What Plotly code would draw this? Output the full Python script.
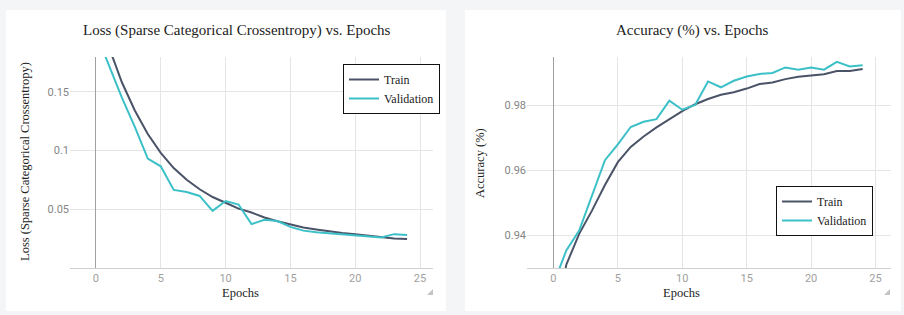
import plotly.graph_objects as go

W, H = 904, 315

epochs = list(range(25))
train_loss = [0.30, 0.188, 0.158, 0.134, 0.114, 0.098, 0.085, 0.075, 0.067, 0.0604,
              0.0555, 0.0505, 0.0472, 0.043, 0.0397, 0.037, 0.0345, 0.0328, 0.031,
              0.0297, 0.0287, 0.0275, 0.026, 0.0252, 0.0246]
val_loss = [0.20, 0.173, 0.145, 0.12, 0.093, 0.0865, 0.0664, 0.0647, 0.0613, 0.0486,
            0.057, 0.054, 0.0373, 0.041, 0.040, 0.035, 0.0318, 0.0305, 0.0295,
            0.0285, 0.028, 0.027, 0.026, 0.0288, 0.028]
train_acc = [0.91, 0.931, 0.9405, 0.9477, 0.9555, 0.9625, 0.9672, 0.9704, 0.9732, 0.9758,
             0.9782, 0.9803, 0.9819, 0.9832, 0.984, 0.9851, 0.9865, 0.987, 0.988,
             0.9887, 0.9892, 0.9895, 0.9905, 0.9905, 0.9911]
val_acc = [0.925, 0.9354, 0.9415, 0.9523, 0.9631, 0.968, 0.9733, 0.9749, 0.9757, 0.9814,
           0.9786, 0.9801, 0.9873, 0.9855, 0.9875, 0.9888, 0.9896, 0.9899, 0.9916,
           0.9909, 0.9916, 0.9909, 0.9933, 0.9919, 0.9923]

x_ticks = [0, 5, 10, 15, 20, 25]
loss_ticks = [0.05, 0.1, 0.15]
loss_tick_text = ["0.05", "0.1", "0.15"]
acc_ticks = [0.94, 0.96, 0.98]
acc_tick_text = ["0.94", "0.96", "0.98"]

TRAIN_C = "#4a5367"
VAL_C = "#3cc0c8"
SERIF = "Liberation Serif"
SANS = "Roboto"


def px(x):
    return x / W


def py(y):
    return 1 - y / H


fig = go.Figure()
fig.add_trace(go.Scatter(x=epochs, y=train_loss, mode="lines", name="Train",
                         line=dict(color=TRAIN_C, width=2), xaxis="x", yaxis="y",
                         legend="legend"))
fig.add_trace(go.Scatter(x=epochs, y=val_loss, mode="lines", name="Validation",
                         line=dict(color=VAL_C, width=2), xaxis="x", yaxis="y",
                         legend="legend"))
fig.add_trace(go.Scatter(x=epochs, y=train_acc, mode="lines", name="Train",
                         line=dict(color=TRAIN_C, width=2), xaxis="x2", yaxis="y2",
                         legend="legend2"))
fig.add_trace(go.Scatter(x=epochs, y=val_acc, mode="lines", name="Validation",
                         line=dict(color=VAL_C, width=2), xaxis="x2", yaxis="y2",
                         legend="legend2"))

xcommon = dict(tickvals=x_ticks, showgrid=True, gridcolor="#e5e5e5", gridwidth=1,
               zeroline=True, zerolinecolor="#a0a0a0", zerolinewidth=1,
               showline=True, linecolor="#cfcfcf", linewidth=1, ticks="",
               tickfont=dict(family=SANS, size=11, color="#a0a0a0"))
ycommon = dict(showgrid=True, gridcolor="#e5e5e5", gridwidth=1, zeroline=False,
               showline=False, ticks="",
               tickfont=dict(family=SANS, size=11, color="#858585"))

legend_common = dict(xanchor="left", yanchor="top", bgcolor="white",
                     bordercolor="#111", borderwidth=1,
                     font=dict(family=SERIF, size=12, color="#1a1a1a"))

shapes = [
    dict(type="rect", xref="paper", yref="paper", x0=px(6), x1=px(446), y0=py(311),
         y1=py(10), fillcolor="white", line=dict(width=0), layer="below"),
    dict(type="rect", xref="paper", yref="paper", x0=px(465), x1=px(901), y0=py(311),
         y1=py(10), fillcolor="white", line=dict(width=0), layer="below"),
    dict(type="path", xref="paper", yref="paper",
         path=f"M {px(433)} {py(289)} L {px(433)} {py(295)} L {px(427)} {py(295)} Z",
         fillcolor="#c4c4c4", line=dict(width=0)),
    dict(type="path", xref="paper", yref="paper",
         path=f"M {px(890)} {py(289)} L {px(890)} {py(295)} L {px(884)} {py(295)} Z",
         fillcolor="#c4c4c4", line=dict(width=0)),
]

annotations = [
    dict(text="Loss (Sparse Categorical Crossentropy) vs. Epochs", x=px(237), y=py(30),
         xref="paper", yref="paper", showarrow=False, xanchor="center", yanchor="middle",
         font=dict(family=SERIF, size=15, color="#222")),
    dict(text="Accuracy (%) vs. Epochs", x=px(692), y=py(30),
         xref="paper", yref="paper", showarrow=False, xanchor="center", yanchor="middle",
         font=dict(family=SERIF, size=15, color="#222")),
    dict(text="Epochs", x=px(240), y=py(293), xref="paper", yref="paper",
         showarrow=False, xanchor="center", yanchor="middle",
         font=dict(family=SERIF, size=12.5, color="#222")),
    dict(text="Epochs", x=px(681), y=py(293), xref="paper", yref="paper",
         showarrow=False, xanchor="center", yanchor="middle",
         font=dict(family=SERIF, size=12.5, color="#222")),
    dict(text="Loss (Sparse Categorical Crossentropy)", x=px(25), y=py(162),
         xref="paper", yref="paper", showarrow=False, textangle=-90,
         xanchor="center", yanchor="middle",
         font=dict(family=SERIF, size=12.5, color="#222")),
    dict(text="Accuracy (%)", x=px(480), y=py(163),
         xref="paper", yref="paper", showarrow=False, textangle=-90,
         xanchor="center", yanchor="middle",
         font=dict(family=SERIF, size=12.5, color="#222")),
]

fig.update_layout(
    width=W, height=H,
    margin=dict(l=0, r=0, t=0, b=0),
    paper_bgcolor="#f4f5f7",
    plot_bgcolor="rgba(0,0,0,0)",
    xaxis=dict(domain=[px(70), px(433)], range=[-2, 26], anchor="y", **xcommon),
    yaxis=dict(domain=[py(268), py(57)], range=[0, 0.1795], anchor="x",
               tickvals=loss_ticks, ticktext=loss_tick_text, **ycommon),
    xaxis2=dict(domain=[px(527), px(891)], range=[-2.05, 26.2], anchor="y2", **xcommon),
    yaxis2=dict(domain=[py(268), py(57)], range=[0.93, 0.9948], anchor="x2",
                tickvals=acc_ticks, ticktext=acc_tick_text, **ycommon),
    legend=dict(x=px(343), y=py(64), **legend_common),
    legend2=dict(x=px(776), y=py(186), **legend_common),
    shapes=shapes,
    annotations=annotations,
    showlegend=True,
)

fig.write_html(
    "out.html",
    config={"displayModeBar": False},
    post_script="document.body.style.margin='0';document.body.style.overflow='hidden';",
)
